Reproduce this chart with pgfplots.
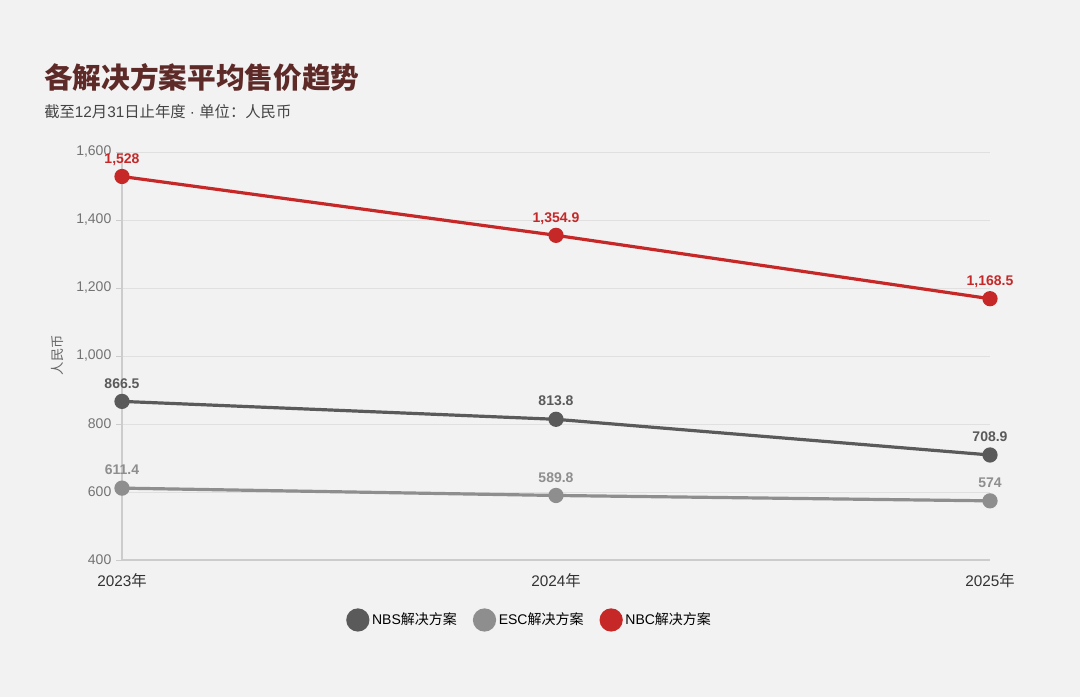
\documentclass[border=0pt]{standalone}
\usepackage{pgfplots}
\pgfplotsset{compat=1.18}
\usepackage{fontspec}
\setmainfont{Liberation Sans}
\newfontfamily\cjk{Noto Sans CJK SC}
\definecolor{bg}{HTML}{F2F2F2}
\definecolor{titlec}{HTML}{5E2A28}
\definecolor{subc}{HTML}{444444}
\definecolor{nbs}{HTML}{5A5A5A}
\definecolor{esc}{HTML}{8E8E8E}
\definecolor{nbc}{HTML}{C62828}
\definecolor{gridc}{HTML}{E0E0E0}
\definecolor{axc}{HTML}{CCCCCC}

\begin{document}
\begin{tikzpicture}
\begin{scope}[x=0.75pt,y=0.75pt]
  \fill[bg] (0,0) rectangle (1080,697);
  \node[anchor=base west, inner sep=0, text=titlec,
        font=\cjk\bfseries\fontsize{21.5}{24}\selectfont] at (44,608) {各解决方案平均售价趋势};
  \node[anchor=base west, inner sep=0, text=subc,
        font=\fontsize{11.5}{13}\selectfont] at (44,579)
        {{\cjk 截至}12{\cjk 月}31{\cjk 日止年度} · {\cjk 单位：人民币}};
  \node[rotate=90, text=black!60, font=\cjk\fontsize{10}{12}\selectfont] at (57,342) {人民币};
\end{scope}

\begin{axis}[
    at={(91.5pt,102.75pt)}, anchor=south west,
    scale only axis, width=651pt, height=306pt,
    xmin=2023, xmax=2025, ymin=400, ymax=1600,
    xtick={2023,2024,2025},
    xticklabels={2023{\cjk 年},2024{\cjk 年},2025{\cjk 年}},
    ytick={400,600,...,1600},
    /pgf/number format/assume math mode=true,
    /pgf/number format/1000 sep={,},
    axis x line*=bottom, axis y line*=left,
    axis line style={axc, line width=0.8pt},
    ymajorgrids, grid style={gridc, line width=0.75pt},
    tick align=outside, major tick length=4.5pt,
    ytick style={axc, line width=0.75pt},
    xtick style={draw=none},
    yticklabel style={text=black!55, font=\fontsize{10.5}{12}\selectfont},
    xticklabel style={text=black!80, font=\fontsize{11.5}{13}\selectfont, yshift=-2pt},
    clip=false,
    every axis plot/.append style={line width=2.4pt, mark=*, mark size=4.5pt},
    nodes near coords={\pgfmathprintnumber[fixed,precision=1,1000 sep={,}]{\pgfplotspointmeta}},
    every node near coord/.append style={anchor=base, yshift=10pt, inner sep=0,
        font=\bfseries\fontsize{10.5}{12}\selectfont},
    legend style={at={(0.47,-0.147)}, anchor=center, draw=none, fill=none,
        legend columns=3, font=\fontsize{10.5}{12}\selectfont,
        /tikz/every even column/.append style={column sep=10pt}},
    legend image code/.code={\fill (2pt,0pt) circle (7.5pt);},
]
\addplot[color=nbs] coordinates {(2023,866.5) (2024,813.8) (2025,708.9)};
\addlegendentry{NBS{\cjk 解决方案}}
\addplot[color=esc] coordinates {(2023,611.4) (2024,589.8) (2025,574)};
\addlegendentry{ESC{\cjk 解决方案}}
\addplot[color=nbc] coordinates {(2023,1528) (2024,1354.9) (2025,1168.5)};
\addlegendentry{NBC{\cjk 解决方案}}
\end{axis}
\end{tikzpicture}
\end{document}
